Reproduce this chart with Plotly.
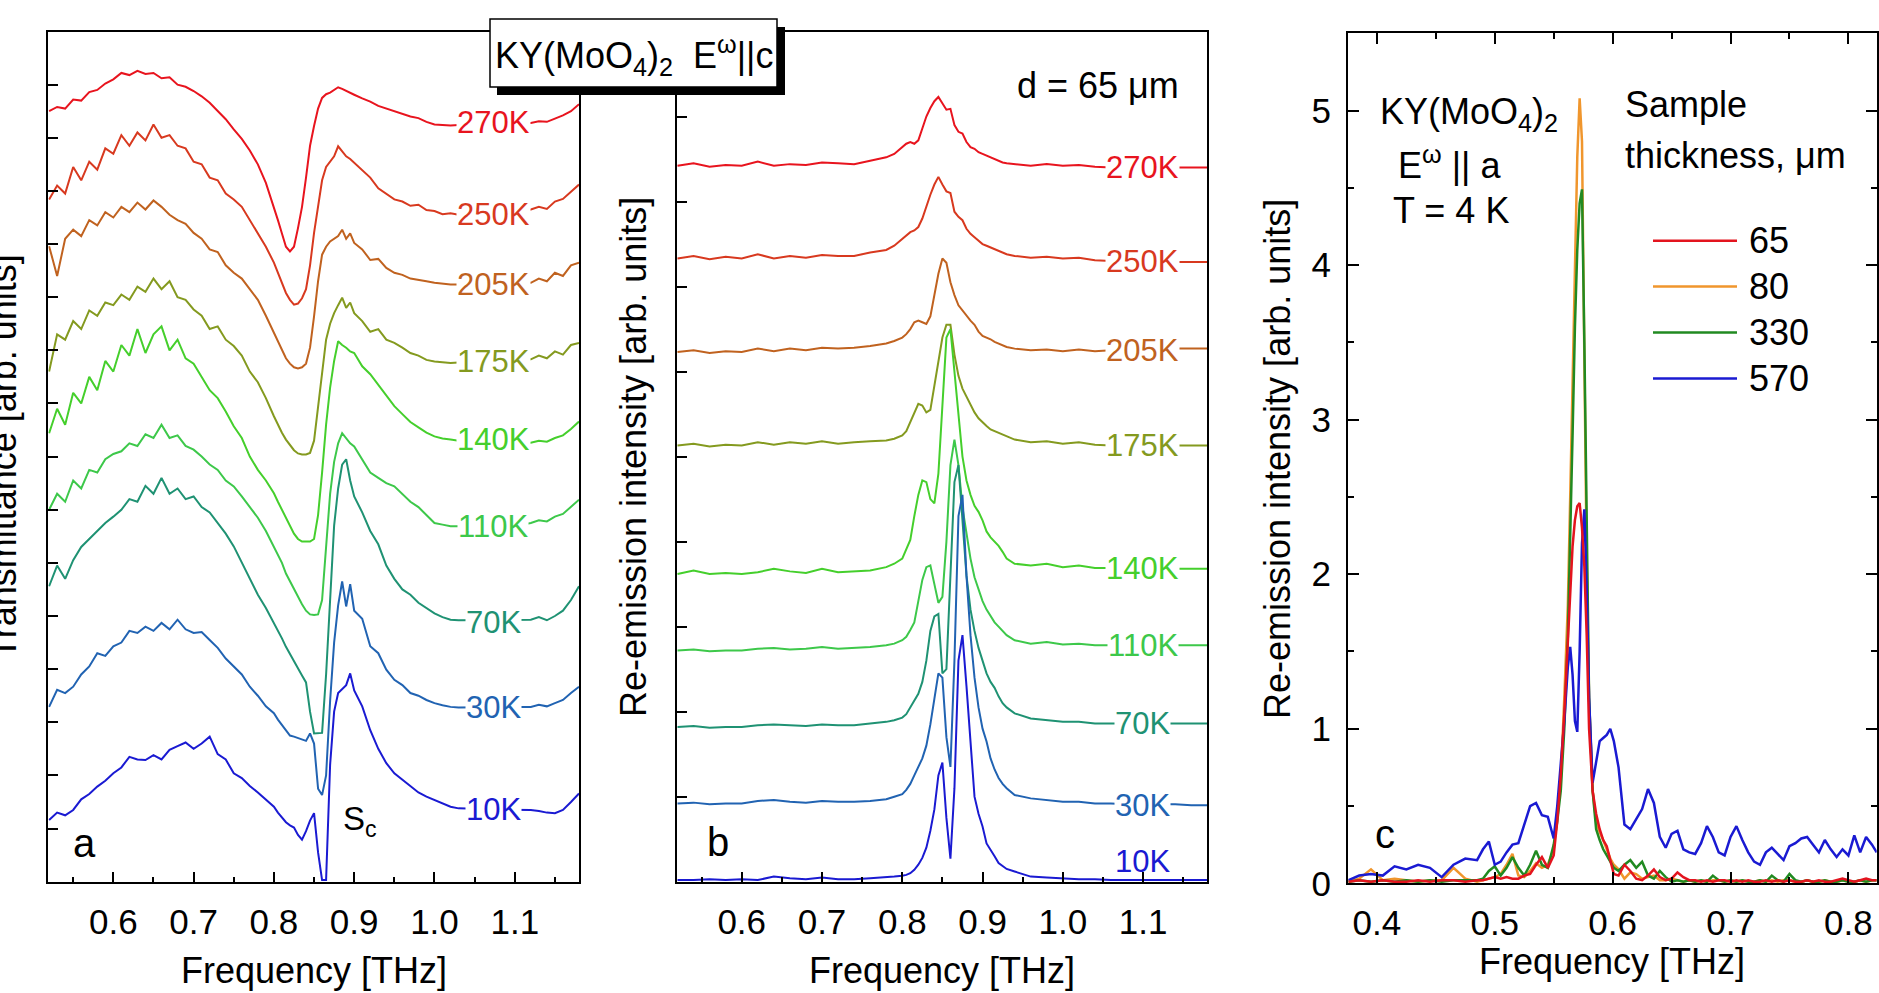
import plotly.graph_objects as go

FONT = "Liberation Sans, Arial, sans-serif"
W, H = 1879, 993

# ---------------- data ----------------
temps = ["270K", "250K", "205K", "175K", "140K", "110K", "70K", "30K", "10K"]
temp_colors = ["#e8141e", "#d8391f", "#c0621f", "#849a1f", "#45cf2c",
               "#3dc84a", "#1f9273", "#2163b2", "#1a1ad2"]

# panel a: transmittance (offset curves)
freq_a = [0.52, 0.53, 0.54, 0.55, 0.56, 0.57, 0.58, 0.59, 0.60, 0.61, 0.62, 0.63, 0.64, 0.65,
          0.66, 0.67, 0.68, 0.69, 0.70, 0.71, 0.72, 0.73, 0.74, 0.75, 0.76, 0.77, 0.78, 0.79, 0.80,
          0.805, 0.81, 0.815, 0.82, 0.825, 0.83, 0.835, 0.84, 0.845, 0.85, 0.855, 0.86, 0.865,
          0.87, 0.875, 0.88, 0.885, 0.89, 0.895, 0.90,
          0.91, 0.92, 0.93, 0.94, 0.95, 0.96, 0.97, 0.98, 0.99, 1.00, 1.01, 1.02, 1.03, 1.04,
          1.05, 1.06, 1.07, 1.08, 1.09, 1.10, 1.11, 1.12, 1.13, 1.14, 1.15, 1.16, 1.17, 1.18]

tr_270 = [14.50, 14.58, 14.55, 14.72, 14.70, 14.86, 14.90, 15.02, 15.10, 15.22, 15.18, 15.26, 15.20, 15.22,
          15.12, 15.14, 15.00, 14.96, 14.88, 14.78, 14.66, 14.50, 14.35, 14.16, 13.98, 13.76, 13.50, 13.15, 12.71,
          12.45, 12.20, 11.95, 11.86, 11.95, 12.30, 12.70, 13.25, 13.85, 14.22, 14.55, 14.75, 14.82,
          14.85, 14.90, 14.95, 14.92, 14.88, 14.84, 14.81,
          14.74, 14.68, 14.60, 14.55, 14.50, 14.46, 14.40, 14.37, 14.30, 14.25, 14.24, 14.23, 14.24, 14.24,
          14.25, 14.25, 14.26, 14.26, 14.27, 14.27, 14.28, 14.28, 14.31, 14.30, 14.36, 14.42, 14.50, 14.63]
tr_250 = [12.84, 13.10, 12.95, 13.45, 13.20, 13.55, 13.40, 13.80, 13.70, 14.05, 13.85, 14.10, 13.95, 14.25,
          14.00, 14.05, 13.85, 13.80, 13.55, 13.50, 13.25, 13.20, 12.95, 12.84, 12.70, 12.45, 12.20, 11.95, 11.65,
          11.45, 11.25, 11.08, 10.95, 10.86, 10.88, 10.98, 11.15, 11.60, 12.21, 12.75, 13.20, 13.45,
          13.55, 13.65, 13.84, 13.75, 13.65, 13.60, 13.53,
          13.40, 13.25, 13.05, 12.95, 12.84, 12.80, 12.72, 12.74, 12.64, 12.62, 12.56, 12.58, 12.55, 12.56,
          12.57, 12.58, 12.58, 12.59, 12.60, 12.61, 12.62, 12.65, 12.70, 12.66, 12.80, 12.85, 12.98, 13.12]
tr_205 = [11.96, 11.40, 12.10, 12.27, 12.15, 12.45, 12.35, 12.60, 12.50, 12.70, 12.60, 12.78, 12.65, 12.82,
          12.70, 12.55, 12.45, 12.38, 12.21, 12.10, 11.90, 11.85, 11.60, 11.46, 11.35, 11.15, 10.95, 10.65, 10.33,
          10.15, 10.00, 9.85, 9.75, 9.68, 9.66, 9.68, 9.75, 10.05, 10.64, 11.30, 11.80, 11.95,
          12.05, 12.10, 12.15, 12.27, 12.10, 12.20, 12.02,
          11.90, 11.70, 11.72, 11.55, 11.46, 11.42, 11.35, 11.33, 11.30, 11.27, 11.25, 11.24, 11.24, 11.24,
          11.25, 11.25, 11.25, 11.26, 11.26, 11.26, 11.26, 11.27, 11.35, 11.30, 11.46, 11.40, 11.60, 11.65]
tr_175 = [9.60, 10.30, 10.20, 10.55, 10.40, 10.75, 10.65, 10.90, 10.85, 11.05, 10.95, 11.20, 11.10, 11.35,
          11.15, 11.30, 11.00, 10.95, 10.77, 10.65, 10.40, 10.45, 10.20, 10.08, 9.90, 9.60, 9.40, 9.10, 8.76,
          8.60, 8.45, 8.32, 8.22, 8.12, 8.06, 8.04, 8.04, 8.07, 8.30, 8.90, 9.60, 10.20,
          10.50, 10.70, 10.85, 10.99, 10.80, 10.90, 10.70,
          10.55, 10.35, 10.40, 10.20, 10.14, 10.05, 9.95, 9.90, 9.82, 9.79, 9.77, 9.76, 9.77, 9.77,
          9.78, 9.78, 9.79, 9.79, 9.80, 9.80, 9.81, 9.83, 9.90, 9.85, 9.98, 9.92, 10.10, 10.14]
tr_140 = [8.44, 8.90, 8.60, 9.20, 9.00, 9.50, 9.25, 9.80, 9.60, 10.10, 9.90, 10.40, 9.95, 10.30,
          10.45, 10.00, 10.20, 9.85, 9.75, 9.50, 9.25, 9.10, 8.85, 8.57, 8.35, 8.00, 7.75, 7.55, 7.31,
          7.15, 7.00, 6.85, 6.70, 6.55, 6.45, 6.40, 6.40, 6.40, 6.45, 6.90, 7.70, 8.60,
          9.30, 9.80, 10.17, 10.10, 10.05, 9.98, 9.95,
          9.70, 9.55, 9.35, 9.15, 8.95, 8.80, 8.65, 8.55, 8.45, 8.38, 8.34, 8.32, 8.30, 8.30,
          8.29, 8.29, 8.28, 8.28, 8.27, 8.27, 8.27, 8.26, 8.30, 8.28, 8.35, 8.40, 8.52, 8.66]
tr_110 = [7.00, 7.30, 7.15, 7.55, 7.40, 7.75, 7.70, 7.95, 8.05, 8.10, 8.25, 8.20, 8.42, 8.35,
          8.60, 8.35, 8.40, 8.20, 8.13, 8.00, 7.85, 7.75, 7.55, 7.44, 7.25, 7.05, 6.85, 6.60, 6.31,
          6.15, 6.00, 5.80, 5.65, 5.50, 5.35, 5.22, 5.10, 5.03, 5.02, 5.03, 5.30, 6.40,
          7.30, 7.90, 8.25, 8.44, 8.35, 8.25, 8.19,
          7.95, 7.70, 7.60, 7.50, 7.44, 7.30, 7.15, 7.05, 6.90, 6.75, 6.72, 6.69, 6.69, 6.70,
          6.70, 6.70, 6.71, 6.71, 6.72, 6.72, 6.72, 6.75, 6.80, 6.78, 6.87, 6.92, 7.05, 7.19]
tr_70 = [5.56, 5.95, 5.70, 6.05, 6.30, 6.45, 6.60, 6.75, 6.87, 7.00, 7.20, 7.15, 7.45, 7.30,
         7.60, 7.30, 7.40, 7.20, 7.25, 7.05, 6.95, 6.75, 6.55, 6.31, 6.00, 5.70, 5.40, 5.15, 4.87,
         4.72, 4.58, 4.42, 4.28, 4.15, 4.00, 3.88, 3.75, 3.20, 2.79, 2.79, 2.80, 3.90,
         5.30, 6.70, 7.40, 7.85, 7.95, 7.55, 7.25,
         6.95, 6.60, 6.35, 5.95, 5.70, 5.50, 5.40, 5.25, 5.15, 5.05, 4.98, 4.93, 4.92, 4.92,
         4.92, 4.92, 4.92, 4.92, 4.92, 4.92, 4.93, 4.93, 4.98, 4.92, 5.00, 5.10, 5.30, 5.56]
tr_30 = [3.29, 3.61, 3.55, 3.67, 3.90, 4.05, 4.30, 4.25, 4.43, 4.50, 4.72, 4.68, 4.80, 4.72,
         4.87, 4.75, 4.93, 4.75, 4.68, 4.70, 4.55, 4.40, 4.20, 4.05, 3.90, 3.67, 3.50, 3.30, 3.17,
         3.05, 2.95, 2.85, 2.75, 2.73, 2.70, 2.67, 2.65, 2.79, 2.60, 1.75, 1.63, 2.00,
         3.40, 4.50, 5.20, 5.65, 5.18, 5.60, 5.10,
         4.95, 4.43, 4.30, 3.99, 3.80, 3.70, 3.55, 3.50, 3.42, 3.36, 3.32, 3.29, 3.28, 3.28,
         3.28, 3.28, 3.28, 3.28, 3.28, 3.28, 3.28, 3.29, 3.33, 3.30, 3.36, 3.42, 3.55, 3.67]
tr_10 = [1.16, 1.30, 1.25, 1.35, 1.55, 1.65, 1.79, 1.90, 2.04, 2.15, 2.35, 2.30, 2.29, 2.38,
         2.30, 2.48, 2.55, 2.62, 2.50, 2.60, 2.73, 2.40, 2.30, 2.04, 1.95, 1.80, 1.68, 1.55, 1.41,
         1.30, 1.20, 1.12, 1.06, 1.02, 0.88, 0.79, 0.95, 1.15, 1.29, 0.55, 0.03, 0.03,
         2.20, 3.20, 3.55, 3.62, 3.70, 3.92, 3.60,
         3.30, 2.85, 2.50, 2.23, 2.04, 1.92, 1.80, 1.68, 1.60, 1.54, 1.48, 1.41, 1.38, 1.38,
         1.37, 1.37, 1.36, 1.36, 1.36, 1.35, 1.35, 1.35, 1.33, 1.30, 1.29, 1.35, 1.50, 1.66]
trans_curves = [tr_270, tr_250, tr_205, tr_175, tr_140, tr_110, tr_70, tr_30, tr_10]

# panel b: re-emission intensity (offset curves)
freq_b = [0.52, 0.54, 0.56, 0.58, 0.60, 0.62, 0.64, 0.66, 0.68, 0.70, 0.72, 0.74, 0.76, 0.78,
          0.79, 0.80,
          0.805, 0.81, 0.815, 0.82, 0.825, 0.83, 0.835, 0.84, 0.845, 0.85, 0.855, 0.86, 0.865,
          0.87, 0.875, 0.88, 0.885, 0.89, 0.895, 0.90, 0.905, 0.91, 0.915, 0.92, 0.925, 0.93,
          0.94, 0.96, 0.98, 1.00, 1.02, 1.04, 1.06, 1.08, 1.10, 1.12, 1.14, 1.16, 1.18]

re_270 = [8.42, 8.45, 8.41, 8.43, 8.42, 8.47, 8.42, 8.44, 8.43, 8.46, 8.45, 8.44, 8.48, 8.52, 8.56, 8.64,
          8.68, 8.70, 8.68, 8.72, 8.85, 9.00, 9.10, 9.18, 9.23, 9.15, 9.08, 9.09, 8.90, 8.82, 8.80, 8.70,
          8.64, 8.62, 8.58, 8.56, 8.54, 8.52, 8.50, 8.48, 8.46, 8.45,
          8.44, 8.42, 8.44, 8.42, 8.43, 8.41, 8.40, 8.40, 8.40, 8.40, 8.40, 8.40, 8.40]
re_250 = [7.33, 7.36, 7.32, 7.35, 7.33, 7.38, 7.33, 7.36, 7.34, 7.37, 7.36, 7.36, 7.40, 7.43, 7.48, 7.56,
          7.60, 7.64, 7.66, 7.70, 7.80, 7.95, 8.08, 8.20, 8.29, 8.20, 8.12, 8.10, 7.88, 7.82, 7.78, 7.68,
          7.62, 7.58, 7.54, 7.50, 7.48, 7.46, 7.44, 7.42, 7.40, 7.38,
          7.36, 7.34, 7.35, 7.33, 7.34, 7.31, 7.30, 7.30, 7.29, 7.29, 7.29, 7.29, 7.29]
re_205 = [6.23, 6.25, 6.22, 6.24, 6.23, 6.27, 6.24, 6.27, 6.25, 6.28, 6.27, 6.28, 6.30, 6.33, 6.36, 6.40,
          6.44, 6.50, 6.58, 6.60, 6.58, 6.56, 6.65, 6.90, 7.15, 7.33, 7.28, 7.05, 6.90, 6.78, 6.72, 6.65,
          6.60, 6.55, 6.47, 6.42, 6.40, 6.38, 6.35, 6.33, 6.31, 6.29,
          6.27, 6.25, 6.26, 6.24, 6.26, 6.24, 6.25, 6.26, 6.27, 6.27, 6.27, 6.27, 6.27]
re_175 = [5.13, 5.15, 5.12, 5.14, 5.13, 5.17, 5.14, 5.17, 5.15, 5.18, 5.15, 5.17, 5.18, 5.19, 5.21, 5.25,
          5.30, 5.40, 5.52, 5.62, 5.60, 5.52, 5.55, 5.85, 6.15, 6.40, 6.55, 6.55, 6.20, 5.95, 5.80, 5.70,
          5.60, 5.52, 5.45, 5.40, 5.36, 5.32, 5.30, 5.28, 5.26, 5.24,
          5.20, 5.17, 5.18, 5.15, 5.17, 5.14, 5.13, 5.13, 5.13, 5.13, 5.13, 5.13, 5.13]
re_140 = [3.62, 3.66, 3.62, 3.63, 3.62, 3.64, 3.68, 3.65, 3.63, 3.68, 3.64, 3.65, 3.66, 3.70, 3.74, 3.80,
          3.90, 4.02, 4.30, 4.55, 4.72, 4.70, 4.50, 4.45, 4.80, 5.60, 6.40, 6.50, 6.00, 5.45, 5.00, 4.72,
          4.55, 4.42, 4.35, 4.25, 4.12, 4.05, 4.00, 3.95, 3.88, 3.80,
          3.74, 3.72, 3.74, 3.70, 3.72, 3.69, 3.69, 3.69, 3.69, 3.69, 3.68, 3.68, 3.68]
re_110 = [2.72, 2.73, 2.71, 2.72, 2.72, 2.74, 2.75, 2.73, 2.74, 2.76, 2.74, 2.75, 2.76, 2.78, 2.80, 2.84,
          2.88, 2.96, 3.05, 3.30, 3.55, 3.70, 3.72, 3.50, 3.28, 3.35, 4.00, 4.90, 5.20, 4.90, 4.40, 4.10,
          3.80, 3.58, 3.45, 3.30, 3.20, 3.12, 3.05, 3.00, 2.95, 2.90,
          2.84, 2.80, 2.82, 2.79, 2.80, 2.78, 2.78, 2.78, 2.78, 2.78, 2.78, 2.78, 2.78]
re_70 = [1.82, 1.83, 1.81, 1.82, 1.82, 1.84, 1.85, 1.84, 1.83, 1.85, 1.84, 1.84, 1.86, 1.88, 1.90, 1.93,
         1.97, 2.05, 2.12, 2.21, 2.35, 2.60, 2.95, 3.12, 3.15, 2.45, 2.50, 3.60, 4.70, 4.90, 4.20, 3.60,
         3.20, 2.95, 2.75, 2.60, 2.45, 2.35, 2.28, 2.18, 2.10, 2.05,
         1.98, 1.92, 1.90, 1.88, 1.88, 1.86, 1.86, 1.86, 1.86, 1.86, 1.86, 1.86, 1.86]
re_30 = [0.92, 0.93, 0.91, 0.92, 0.92, 0.95, 0.96, 0.94, 0.93, 0.95, 0.94, 0.94, 0.95, 0.97, 1.00, 1.03,
         1.08, 1.15, 1.25, 1.35, 1.45, 1.60, 1.85, 2.15, 2.45, 2.40, 1.70, 1.35, 2.60, 4.30, 4.55, 3.60,
         2.90, 2.40, 2.05, 1.80, 1.65, 1.45, 1.32, 1.22, 1.15, 1.10,
         1.02, 0.98, 0.96, 0.94, 0.94, 0.92, 0.92, 0.91, 0.91, 0.91, 0.91, 0.90, 0.90]
re_10 = [0.02, 0.02, 0.03, 0.02, 0.03, 0.02, 0.06, 0.04, 0.03, 0.05, 0.03, 0.03, 0.04, 0.05, 0.06, 0.07,
         0.08, 0.10, 0.14, 0.20, 0.28, 0.40, 0.60, 0.85, 1.25, 1.40, 0.75, 0.27, 1.10, 2.60, 2.90, 2.30,
         1.60, 1.00, 0.80, 0.65, 0.45, 0.38, 0.30, 0.22, 0.18, 0.15,
         0.12, 0.06, 0.05, 0.04, 0.03, 0.03, 0.02, 0.02, 0.02, 0.02, 0.02, 0.02, 0.02]
reem_curves = [re_270, re_250, re_205, re_175, re_140, re_110, re_70, re_30, re_10]

# panel c: re-emission vs sample thickness (T = 4 K)
thickness = ["65", "80", "330", "570"]
thick_colors = ["#e3141e", "#f0962d", "#218a21", "#1a1ad2"]
freq_c = [0.376, 0.385, 0.395, 0.405, 0.415, 0.425, 0.435, 0.445, 0.455, 0.465, 0.475, 0.485,
          0.490, 0.495, 0.500, 0.505, 0.510, 0.515, 0.520, 0.525, 0.530, 0.535, 0.540, 0.545, 0.550,
          0.553, 0.556, 0.559,
          0.562, 0.564, 0.566, 0.568, 0.570, 0.572, 0.574, 0.576, 0.578, 0.580,
          0.583, 0.586, 0.589, 0.592, 0.595, 0.598, 0.601,
          0.605, 0.610, 0.615, 0.620, 0.625, 0.630, 0.635, 0.640, 0.645, 0.650, 0.655, 0.660, 0.665,
          0.670, 0.675, 0.680, 0.685, 0.690, 0.695, 0.700, 0.705, 0.710, 0.715, 0.720, 0.725, 0.730,
          0.735, 0.740, 0.745, 0.750, 0.755, 0.760, 0.765, 0.770, 0.775, 0.780, 0.785, 0.790, 0.795,
          0.800, 0.805, 0.810, 0.815, 0.820, 0.824]

d_65 = [0.01, 0.02, 0.01, 0.02, 0.01, 0.01, 0.02, 0.01, 0.02, 0.02, 0.01, 0.02,
        0.02, 0.03, 0.04, 0.03, 0.04, 0.03, 0.03, 0.05, 0.06, 0.12, 0.17, 0.10, 0.18,
        0.40, 0.70, 1.10,
        1.60, 1.95, 2.18, 2.35, 2.44, 2.46, 2.30, 2.05, 1.60, 1.00,
        0.60, 0.45, 0.35, 0.28, 0.24, 0.15, 0.06,
        0.05, 0.12, 0.08, 0.03, 0.02, 0.05, 0.09, 0.04, 0.02, 0.03, 0.07, 0.04, 0.02,
        0.02, 0.01, 0.02, 0.01, 0.02, 0.02, 0.01, 0.02, 0.01, 0.02, 0.01, 0.01, 0.02,
        0.01, 0.02, 0.01, 0.02, 0.01, 0.01, 0.02, 0.01, 0.02, 0.01, 0.01, 0.02, 0.03,
        0.02, 0.01, 0.02, 0.03, 0.02, 0.02]
d_80 = [0.01, 0.03, 0.09, 0.02, 0.03, 0.02, 0.01, 0.02, 0.02, 0.10, 0.03, 0.01,
        0.02, 0.03, 0.04, 0.06, 0.12, 0.19, 0.05, 0.04, 0.08, 0.13, 0.10, 0.12, 0.22,
        0.45, 0.67, 1.20,
        1.80, 2.50, 3.30, 4.10, 4.70, 5.08, 4.80, 3.40, 2.07, 1.20,
        0.60, 0.40, 0.33, 0.28, 0.22, 0.16, 0.12,
        0.09, 0.03, 0.07, 0.06, 0.03, 0.04, 0.05, 0.02, 0.02, 0.03, 0.02, 0.01, 0.02,
        0.01, 0.02, 0.01, 0.02, 0.02, 0.01, 0.02, 0.01, 0.02, 0.01, 0.01, 0.02, 0.01,
        0.02, 0.01, 0.02, 0.02, 0.01, 0.01, 0.02, 0.01, 0.01, 0.02, 0.01, 0.01, 0.02,
        0.01, 0.01, 0.02, 0.01, 0.02, 0.02]
d_330 = [0.01, 0.02, 0.01, 0.02, 0.01, 0.02, 0.01, 0.02, 0.01, 0.02, 0.02, 0.02,
         0.03, 0.08, 0.11, 0.05, 0.10, 0.17, 0.10, 0.05, 0.12, 0.21, 0.12, 0.10, 0.25,
         0.40, 0.60, 1.00,
         1.60, 2.20, 2.90, 3.60, 4.10, 4.40, 4.49, 3.50, 2.20, 1.20,
         0.60, 0.35, 0.28, 0.22, 0.18, 0.14, 0.10,
         0.08, 0.12, 0.15, 0.10, 0.14, 0.05, 0.03, 0.08, 0.04, 0.01, 0.02, 0.01, 0.02,
         0.01, 0.02, 0.01, 0.05, 0.02, 0.01, 0.02, 0.01, 0.02, 0.01, 0.01, 0.02, 0.01,
         0.05, 0.02, 0.01, 0.06, 0.02, 0.01, 0.02, 0.01, 0.01, 0.02, 0.01, 0.01, 0.02,
         0.01, 0.01, 0.02, 0.01, 0.02, 0.02]
d_570 = [0.02, 0.05, 0.06, 0.05, 0.11, 0.09, 0.12, 0.10, 0.04, 0.12, 0.16, 0.15,
         0.22, 0.27, 0.12, 0.14, 0.20, 0.25, 0.26, 0.38, 0.50, 0.52, 0.44, 0.43, 0.29,
         0.50, 0.75, 1.05,
         1.40, 1.53, 1.35, 1.05, 0.98, 1.50, 2.20, 2.42, 1.90, 1.20,
         0.65, 0.78, 0.92, 0.94, 0.96, 1.00, 0.92,
         0.75, 0.38, 0.35, 0.42, 0.48, 0.61, 0.52, 0.30, 0.23, 0.32, 0.34, 0.22, 0.20,
         0.19, 0.26, 0.37, 0.30, 0.20, 0.18, 0.30, 0.37, 0.28, 0.20, 0.14, 0.12, 0.20,
         0.23, 0.19, 0.15, 0.24, 0.26, 0.29, 0.30, 0.25, 0.20, 0.28, 0.22, 0.17, 0.22,
         0.18, 0.31, 0.20, 0.30, 0.25, 0.20]
thick_curves = [d_65, d_80, d_330, d_570]

for c in trans_curves:
    assert len(c) == len(freq_a), len(c)
for c in reem_curves:
    assert len(c) == len(freq_b), len(c)
for c in thick_curves:
    assert len(c) == len(freq_c), len(c)

# label positions (data units) for the temperature tags
label_y_a = [14.28, 12.56, 11.24, 9.79, 8.32, 6.69, 4.87, 3.27, 1.35]
label_y_b = [8.40, 7.29, 6.25, 5.13, 3.68, 2.78, 1.86, 0.90, 0.24]

# ---------------- figure ----------------
fig = go.Figure()

for name, col, ys in zip(temps, temp_colors, trans_curves):
    fig.add_trace(go.Scatter(x=freq_a, y=ys, mode="lines", name=name,
                             line=dict(color=col, width=2), xaxis="x", yaxis="y",
                             showlegend=False))
for name, col, ys in zip(temps, temp_colors, reem_curves):
    fig.add_trace(go.Scatter(x=freq_b, y=ys, mode="lines", name=name,
                             line=dict(color=col, width=2), xaxis="x2", yaxis="y2",
                             showlegend=False))
draw_order = [1, 2, 3, 0]  # 80, 330, 570, 65
for i in draw_order:
    fig.add_trace(go.Scatter(x=freq_c, y=thick_curves[i], mode="lines", name=thickness[i],
                             line=dict(color=thick_colors[i], width=2.5), xaxis="x3", yaxis="y3",
                             showlegend=False))


def px(x):
    return x / W


def py(y):
    return 1 - y / H


TICKFONT = dict(family=FONT, size=35, color="black")


def xax(domain, rng, major, minor):
    return dict(domain=domain, range=rng, tickvals=major, tickformat=".1f",
                ticks="inside", ticklen=10, tickwidth=2, tickcolor="black",
                minor=dict(tickvals=minor, ticks="inside", ticklen=5, tickwidth=2,
                           tickcolor="black", showgrid=False),
                showline=True, linewidth=2, linecolor="black", showgrid=False,
                zeroline=False, tickfont=TICKFONT, ticklabelstandoff=8, automargin=False)


def yax_hidden(domain, rng, major, anchor):
    return dict(domain=domain, range=rng, tickvals=major, showticklabels=False,
                ticks="inside", ticklen=10, tickwidth=2, tickcolor="black",
                showline=True, linewidth=2, linecolor="black", mirror=True,
                showgrid=False, zeroline=False, anchor=anchor, automargin=False)


dom_y = [py(881.7), py(31.5)]
dom_yc = [py(883.3), py(33.3)]
xa = xax([px(48.3), px(579)], [0.519, 1.18], [0.6, 0.7, 0.8, 0.9, 1.0, 1.1],
         [0.55, 0.65, 0.75, 0.85, 0.95, 1.05, 1.15])
xa.update(anchor="y", mirror=True)
xb = xax([px(676.7), px(1207.3)], [0.519, 1.18], [0.6, 0.7, 0.8, 0.9, 1.0, 1.1],
         [0.55, 0.65, 0.75, 0.85, 0.95, 1.05, 1.15])
xb.update(anchor="y2", mirror=True)
xc = xax([px(1348), px(1876.7)], [0.3755, 0.824], [0.4, 0.5, 0.6, 0.7, 0.8],
         [0.45, 0.55, 0.65, 0.75])
xc.update(anchor="y3", mirror="ticks", ticklen=11, minor=dict(tickvals=[0.45, 0.55, 0.65, 0.75],
          ticks="inside", ticklen=6, tickwidth=2, tickcolor="black", showgrid=False))

ya = yax_hidden(dom_y, [0, 16], list(range(1, 16)), "x")
yb = yax_hidden(dom_y, [0, 10], list(range(1, 10)), "x2")
yc = dict(domain=dom_yc, range=[0, 5.5], tickvals=[0, 1, 2, 3, 4, 5], tickformat="d",
          ticks="inside", ticklen=11, tickwidth=2, tickcolor="black",
          minor=dict(tickvals=[0.5, 1.5, 2.5, 3.5, 4.5], ticks="inside", ticklen=6,
                     tickwidth=2, tickcolor="black", showgrid=False),
          showline=True, linewidth=2, linecolor="black", mirror="ticks",
          showgrid=False, zeroline=False, tickfont=TICKFONT, anchor="x3",
          ticklabelstandoff=8, automargin=False)

annotations = []
shapes = []


def note(text, x, y, xref, yref, size=36, color="black", xanchor="center", **kw):
    d = dict(text=text, x=x, y=y, xref=xref, yref=yref, xanchor=xanchor, yanchor="middle",
             showarrow=False, font=dict(family=FONT, size=size, color=color))
    d.update(kw)
    return d


# x-axis titles
for cx, cy in [(313.7, 970), (942, 970), (1612, 961)]:
    annotations.append(note("Frequency [THz]", px(cx), py(cy), "paper", "paper"))
# y-axis titles
for txt, cx, cy in [("Transmittance [arb. units]", 3, 457),
                    ("Re-emission intensity [arb. units]", 633, 457),
                    ("Re-emission intensity [arb. units]", 1277, 459)]:
    annotations.append(note(txt, px(cx), py(cy), "paper", "paper", textangle=-90))

# temperature tags
for name, col, ly in zip(temps, temp_colors, label_y_a):
    annotations.append(note(name, 1.0734, ly, "x", "y", size=31, color=col,
                            bgcolor="white", borderpad=0))
for k, (name, col, ly) in enumerate(zip(temps, temp_colors, label_y_b)):
    annotations.append(note(name, 1.0995, ly, "x2", "y2", size=31, color=col,
                            bgcolor="white" if k < len(temps) - 1 else "rgba(0,0,0,0)",
                            borderpad=0))

# panel letters and notes
annotations += [
    note("a", 0.5646, 0.72, "x", "y", size=40),
    note("b", 0.5705, 0.47, "x2", "y2", size=40),
    note("c", 0.4065, 0.32, "x3", "y3", size=40),
    note("S<sub>c</sub>", 0.8834, 1.15, "x", "y", size=33, xanchor="left"),
    note("d = 65 \u03bcm", 1.0437, 9.365, "x2", "y2"),
    note("KY(MoO<sub>4</sub>)<sub>2</sub>", 0.4008, 4.98, "x3", "y3", xanchor="left"),
    note("E<sup>\u03c9</sup> || a", 0.4619, 4.66, "x3", "y3"),
    note("T = 4 K", 0.4627, 4.352, "x3", "y3"),
    note("Sample", 0.6087, 5.037, "x3", "y3", xanchor="left"),
    note("thickness, \u03bcm", 0.6087, 4.708, "x3", "y3", xanchor="left"),
]

# boxed title with drop shadow
shapes.append(dict(type="rect", xref="paper", yref="paper", x0=px(497), x1=px(785),
                   y0=py(95), y1=py(27), fillcolor="black", line=dict(width=0), layer="above"))
shapes.append(dict(type="rect", xref="paper", yref="paper", x0=px(490), x1=px(777),
                   y0=py(87), y1=py(19), fillcolor="white", line=dict(color="black", width=1.5),
                   layer="above"))
annotations.append(note("KY(MoO<sub>4</sub>)<sub>2</sub>  E<sup>\u03c9</sup>||c",
                        px(634), py(55), "paper", "paper"))

# manual legend for panel c
for i, (lab, col) in enumerate(zip(thickness, thick_colors)):
    yy = py(240.7 + i * 45.9)
    shapes.append(dict(type="line", xref="paper", yref="paper", x0=px(1653), x1=px(1737),
                       y0=yy, y1=yy, line=dict(color=col, width=2.5)))
    annotations.append(note(lab, px(1747), yy, "paper", "paper", xanchor="left"))

fig.update_layout(
    template="none",
    width=W, height=H, autosize=False,
    margin=dict(l=0, r=0, t=0, b=0, pad=0, autoexpand=False),
    paper_bgcolor="white", plot_bgcolor="white",
    xaxis=xa, yaxis=ya, xaxis2=xb, yaxis2=yb, xaxis3=xc, yaxis3=yc,
    annotations=annotations, shapes=shapes, showlegend=False,
    font=dict(family=FONT, color="black"),
)

POST = (
    "var d=document.getElementById('{plot_id}');"
    "d.style.position='fixed';d.style.top='0px';d.style.left='0px';"
    "document.documentElement.style.overflow='hidden';"
    "document.body.style.margin='0';document.body.style.overflow='hidden';"
)

fig.write_html("out.html",
               config={"responsive": False, "displayModeBar": False},
               default_width="%dpx" % W, default_height="%dpx" % H,
               post_script=POST)
